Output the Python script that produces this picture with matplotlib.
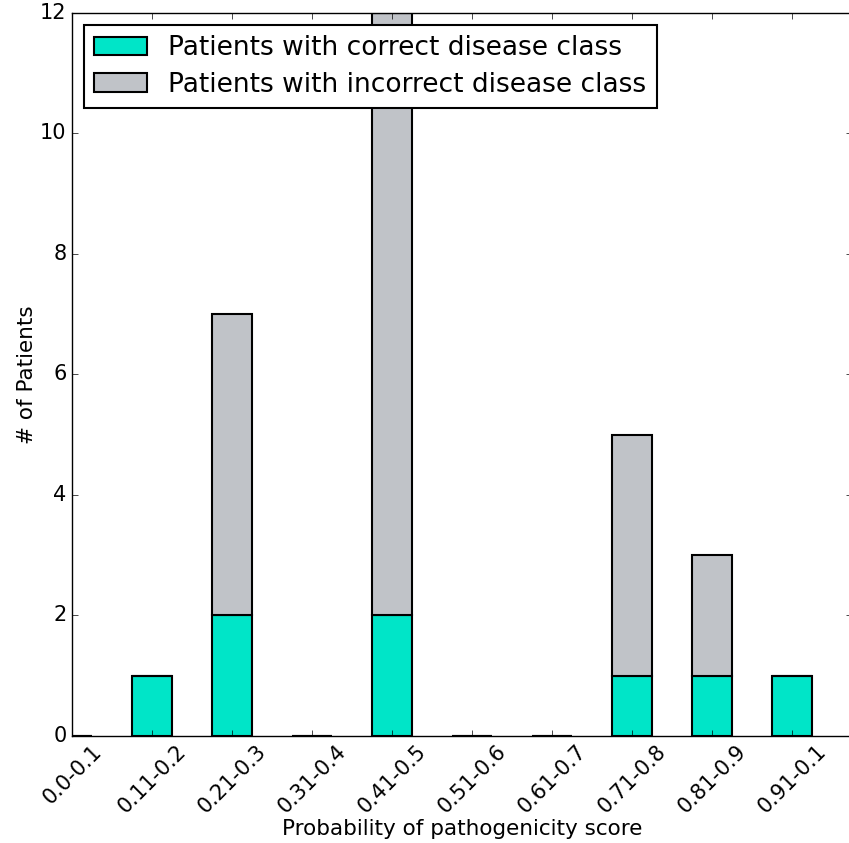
import matplotlib
matplotlib.use("Agg")
import matplotlib.pyplot as plt
import numpy as np

plt.style.use('classic')
plt.rcParams['font.family'] = ['DejaVu Sans']

# --- data ---
categories = ['0.0-0.1', '0.11-0.2', '0.21-0.3', '0.31-0.4', '0.41-0.5',
              '0.51-0.6', '0.61-0.7', '0.71-0.8', '0.81-0.9', '0.91-0.1']
correct = [0, 1, 2, 0, 2, 0, 0, 1, 1, 1]
incorrect = [0, 0, 5, 0, 10, 0, 0, 4, 2, 0]

fig = plt.figure(figsize=(8.49, 8.43), dpi=100, facecolor='white')
# right spine sits just past the figure edge, as in the cropped original
ax = fig.add_axes([0.0848, 0.127, 0.9185, 0.8577])

x = np.arange(len(categories))
ax.bar(x, correct, width=0.5, align='center', color='#00e5c8',
       edgecolor='black', linewidth=1.5, label='Patients with correct disease class')
ax.bar(x, incorrect, width=0.5, bottom=correct, align='center', color='#c0c3c8',
       edgecolor='black', linewidth=1.5, label='Patients with incorrect disease class')

ax.set_xlim(0, 9.745)
ax.set_ylim(0, 12)
ax.set_xticks(x)
ax.set_xticklabels(categories, rotation=45, fontsize=15)
ax.tick_params(axis='y', labelsize=15)
ax.set_yticks(range(0, 13, 2))
ax.set_xlabel('Probability of pathogenicity score', fontsize=15.5, labelpad=1)
ax.set_ylabel('# of Patients', fontsize=15.5, labelpad=2)

leg = ax.legend(loc='upper left', fontsize=19, fancybox=False,
                borderaxespad=0.45, labelspacing=0.4)
leg.get_frame().set_linewidth(1.5)

fig.savefig('out.png', dpi=100, facecolor='white')
